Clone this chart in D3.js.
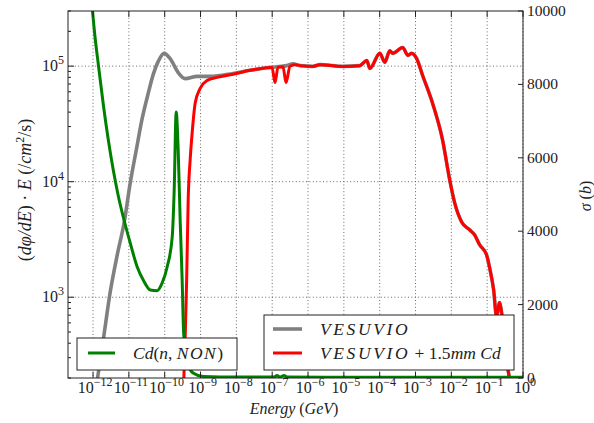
<!DOCTYPE html>
<html>
<head>
<meta charset="utf-8">
<script src="https://cdn.jsdelivr.net/npm/d3@7"></script>
<style>
  body { margin: 0; background: #fff; }
</style>
</head>
<body>
<div id="chart"></div>
<script>

// VESUVIO flux (E * dphi/dE)
const grayE = [1.32e-12, 1.94e-12, 3.03e-12, 4.75e-12, 7.45e-12, 1.09e-11, 1.61e-11, 2.36e-11, 3.47e-11, 4.79e-11,
  6.6e-11, 9.6e-11, 1.42e-10, 2.38e-10, 3.72e-10, 8.0e-10, 1.85e-9, 8.1e-9, 2.41e-8, 7.2e-8,
  2.58e-7, 3.8e-7, 5.96e-7, 1.37e-6, 2.15e-6, 9.4e-6, 2.79e-5, 4.38e-5, 5.3e-5, 1.01e-4,
  1.39e-4, 1.91e-4, 2.32e-4, 4.4e-4, 6.1e-4, 7.8e-4, 1.08e-3, 1.58e-3, 3.0e-3, 5.7e-3,
  8.97e-3, 1.24e-2, 1.94e-2, 3.24e-2, 4.46e-2, 6.14e-2, 9.6e-2, 0.117, 0.151, 0.183,
  0.221, 0.252, 0.305, 0.370, 0.421, 0.479];
const grayFlux = [195, 433, 1120, 2335, 4495, 9750, 1.88e4, 3.54e4, 5.82e4, 8.48e4,
  1.1e5, 1.29e5, 1.16e5, 8.8e4, 7.8e4, 8.15e4, 8.15e4, 8.65e4, 9.2e4, 9.7e4,
  1.01e5, 1.05e5, 1.01e5, 9.95e4, 1.03e5, 9.95e4, 1.01e5, 1.12e5, 9.55e4, 1.29e5,
  1.08e5, 1.36e5, 1.29e5, 1.45e5, 1.24e5, 1.29e5, 1.16e5, 8.3e4, 4.76e4, 2.29e4,
  1.04e4, 6550, 4480, 3830, 3470, 2850, 2330, 1800, 1165, 683,
  900, 740, 434, 253, 195, 145];

// VESUVIO + 1.5mm Cd
const redE = [3.27e-10, 3.72e-10, 4.1e-10, 4.52e-10, 5.13e-10, 5.83e-10, 7.08e-10, 9.77e-10, 1.53e-9, 2.9e-9,
  8.1e-9, 2.41e-8, 7.2e-8, 9.9e-8, 1.2e-7, 1.45e-7, 2.0e-7, 2.43e-7, 3.13e-7, 4.3e-7,
  5.96e-7, 1.37e-6, 2.15e-6, 9.4e-6, 2.79e-5, 4.38e-5, 5.3e-5, 1.01e-4,
  1.39e-4, 1.91e-4, 2.32e-4, 4.4e-4, 6.1e-4, 7.8e-4, 1.08e-3, 1.58e-3, 3.0e-3, 5.7e-3,
  8.97e-3, 1.24e-2, 1.94e-2, 3.24e-2, 4.46e-2, 6.14e-2, 9.6e-2, 0.117, 0.151, 0.183,
  0.221, 0.252, 0.305, 0.370, 0.421, 0.479];
const redFlux = [131, 433, 1420, 6950, 1.54e4, 2.63e4, 4.77e4, 6.43e4, 7.53e4, 8.0e4,
  8.5e4, 9.2e4, 9.7e4, 9.75e4, 7.2e4, 9.8e4, 9.9e4, 7.2e4, 9.95e4, 1.03e5,
  1.01e5, 9.95e4, 1.03e5, 9.95e4, 1.01e5, 1.12e5, 9.55e4, 1.29e5,
  1.08e5, 1.36e5, 1.29e5, 1.45e5, 1.24e5, 1.29e5, 1.16e5, 8.3e4, 4.76e4, 2.29e4,
  1.04e4, 6550, 4480, 3830, 3470, 2850, 2330, 1800, 1165, 683,
  900, 740, 434, 253, 195, 145];

// Cd(n,NON) cross section, barns
const cdE = [7.9e-13, 1.16e-12, 1.41e-12, 1.94e-12, 2.67e-12, 3.67e-12, 5.07e-12, 6.98e-12, 1.09e-11, 1.71e-11,
  2.52e-11, 3.94e-11, 6.18e-11, 8.5e-11, 1.17e-10, 1.62e-10, 1.84e-10, 2.09e-10, 2.38e-10, 2.7e-10,
  3.07e-10, 3.38e-10, 4.24e-10, 6.22e-10, 1.18e-9, 1.05e-8, 1.15e-7, 1.36e-7, 1.62e-7, 2.14e-7,
  2.6e-7, 3.2e-6, 1.0];
const cdSigma = [10980, 9210, 8530, 7440, 6486, 5668, 4960, 4387, 3680, 3025,
  2670, 2400, 2380, 2590, 3025, 3840, 5120, 7250, 6210, 4305,
  2670, 1225, 410, 136, 41, 27, 27, 68, 27, 68,
  27, 20, 20];

const xTickExps = [-12, -11, -10, -9, -8, -7, -6, -5, -4, -3, -2, -1, 0];
const leftTickExps = [3, 4, 5];
const rightTicks = [0, 2000, 4000, 6000, 8000, 10000];

const W = 594, H = 423;
const plot = { left: 68, right: 523, top: 11, bottom: 378 };
const serif = '"Liberation Serif", "DejaVu Serif", serif';

const x = d3.scaleLog().domain([2e-13, 1]).range([plot.left, plot.right]);
const yL = d3.scaleLog().domain([200, 3e5]).range([plot.bottom, plot.top]);
const yR = d3.scaleLinear().domain([0, 10000]).range([plot.bottom, plot.top]);

const svg = d3.select('#chart').append('svg')
  .attr('width', W)
  .attr('height', H)
  .attr('font-family', serif)
  .style('font-family', serif);

svg.append('clipPath').attr('id', 'clip')
  .append('rect')
  .attr('x', plot.left).attr('y', plot.top)
  .attr('width', plot.right - plot.left)
  .attr('height', plot.bottom - plot.top);

// grid
const grid = svg.append('g')
  .attr('stroke', '#444')
  .attr('stroke-width', 0.8)
  .attr('stroke-dasharray', '1,2.4');

grid.selectAll('.vg').data(xTickExps).enter().append('line')
  .attr('x1', d => x(Math.pow(10, d))).attr('x2', d => x(Math.pow(10, d)))
  .attr('y1', plot.top).attr('y2', plot.bottom);

grid.selectAll('.hg').data(leftTickExps).enter().append('line')
  .attr('x1', plot.left).attr('x2', plot.right)
  .attr('y1', d => yL(Math.pow(10, d))).attr('y2', d => yL(Math.pow(10, d)));

// curves
const curves = svg.append('g').attr('clip-path', 'url(#clip)');

const lineL = d3.line().x(d => x(d[0])).y(d => yL(d[1])).curve(d3.curveMonotoneX);
const lineR = d3.line().x(d => x(d[0])).y(d => yR(d[1])).curve(d3.curveMonotoneX);

curves.append('path')
  .attr('d', lineL(d3.zip(grayE, grayFlux)))
  .attr('fill', 'none').attr('stroke', '#808080')
  .attr('stroke-width', 3.6).attr('stroke-linejoin', 'round');

curves.append('path')
  .attr('d', lineL(d3.zip(redE, redFlux)))
  .attr('fill', 'none').attr('stroke', '#ff0000')
  .attr('stroke-width', 3).attr('stroke-linejoin', 'round');

curves.append('path')
  .attr('d', lineR(d3.zip(cdE, cdSigma)))
  .attr('fill', 'none').attr('stroke', '#008000')
  .attr('stroke-width', 3).attr('stroke-linejoin', 'round');

// frame
svg.append('rect')
  .attr('x', plot.left).attr('y', plot.top)
  .attr('width', plot.right - plot.left)
  .attr('height', plot.bottom - plot.top)
  .attr('fill', 'none').attr('stroke', '#222').attr('stroke-width', 1);

// ticks
const ticks = svg.append('g').attr('stroke', '#222').attr('stroke-width', 1);

xTickExps.forEach(e => {
  const px = x(Math.pow(10, e));
  ticks.append('line').attr('x1', px).attr('x2', px).attr('y1', plot.bottom).attr('y2', plot.bottom - 6);
  ticks.append('line').attr('x1', px).attr('x2', px).attr('y1', plot.top).attr('y2', plot.top + 6);
});

const leftMinor = [];
for (let e = 2; e <= 5; e++) {
  for (let m = 1; m <= 9; m++) {
    const v = m * Math.pow(10, e);
    if (v >= 200 && v <= 3e5) leftMinor.push(v);
  }
}
leftMinor.forEach(v => {
  const major = [1e3, 1e4, 1e5].includes(v);
  ticks.append('line')
    .attr('x1', plot.left).attr('x2', plot.left + (major ? 6 : 3))
    .attr('y1', yL(v)).attr('y2', yL(v));
});

rightTicks.forEach(v => {
  ticks.append('line')
    .attr('x1', plot.right).attr('x2', plot.right - 5)
    .attr('y1', yR(v)).attr('y2', yR(v));
});

// tick labels
const labels = svg.append('g').attr('fill', '#222');

xTickExps.forEach(e => {
  const t = labels.append('text')
    .attr('x', x(Math.pow(10, e)) + 2)
    .attr('y', 393)
    .attr('text-anchor', 'middle')
    .attr('font-size', 16);
  t.append('tspan').text('10');
  t.append('tspan').attr('dy', -7).attr('font-size', 12)
    .text(e === 0 ? '0' : '\u2212' + Math.abs(e));
});

leftTickExps.forEach(e => {
  const t = labels.append('text')
    .attr('x', 64)
    .attr('y', yL(Math.pow(10, e)) + 5)
    .attr('text-anchor', 'end')
    .attr('font-size', 16);
  t.append('tspan').text('10');
  t.append('tspan').attr('dy', -7).attr('font-size', 12).text(e);
});

rightTicks.forEach(v => {
  labels.append('text')
    .attr('x', 527)
    .attr('y', yR(v) + 5)
    .attr('font-size', 15.5)
    .text(v);
});

// axis titles
const xt = labels.append('text')
  .attr('x', 294).attr('y', 414)
  .attr('text-anchor', 'middle')
  .attr('font-size', 16);
xt.append('tspan').attr('font-style', 'italic').text('Energy ');
xt.append('tspan').text('(');
xt.append('tspan').attr('font-style', 'italic').text('GeV');
xt.append('tspan').text(')');

const yt = labels.append('text')
  .attr('transform', 'translate(31,190) rotate(-90)')
  .attr('text-anchor', 'middle')
  .attr('font-size', 18);
yt.append('tspan').text('(');
yt.append('tspan').attr('font-style', 'italic').text('d\u03C6/dE');
yt.append('tspan').text(') \u00B7 ');
yt.append('tspan').attr('font-style', 'italic').text('E');
yt.append('tspan').text(' (/');
yt.append('tspan').attr('font-style', 'italic').text('cm');
yt.append('tspan').attr('dy', -7).attr('font-size', 12).text('2');
yt.append('tspan').attr('dy', 7).text('/s)');

const rt = labels.append('text')
  .attr('transform', 'translate(591,196) rotate(-90)')
  .attr('text-anchor', 'middle')
  .attr('font-size', 16);
rt.append('tspan').attr('font-style', 'italic').text('\u03C3');
rt.append('tspan').text(' (');
rt.append('tspan').attr('font-style', 'italic').text('b');
rt.append('tspan').text(')');

// legends
const leg1 = svg.append('g');
leg1.append('rect')
  .attr('x', 77).attr('y', 338).attr('width', 160).attr('height', 32)
  .attr('fill', '#fff').attr('stroke', '#222');
leg1.append('line')
  .attr('x1', 88).attr('x2', 115).attr('y1', 353).attr('y2', 353)
  .attr('stroke', '#008000').attr('stroke-width', 3);
const l1 = leg1.append('text')
  .attr('x', 133).attr('y', 359).attr('font-size', 17.5).attr('fill', '#222');
l1.append('tspan').attr('font-style', 'italic').text('Cd');
l1.append('tspan').text('(');
l1.append('tspan').attr('font-style', 'italic').text('n');
l1.append('tspan').text(', ');
l1.append('tspan').attr('font-style', 'italic').attr('letter-spacing', 1.5).text('NON');
l1.append('tspan').text(')');

const leg2 = svg.append('g');
leg2.append('rect')
  .attr('x', 264).attr('y', 315).attr('width', 250).attr('height', 55)
  .attr('fill', '#fff').attr('stroke', '#222');
leg2.append('line')
  .attr('x1', 273).attr('x2', 302).attr('y1', 329).attr('y2', 329)
  .attr('stroke', '#808080').attr('stroke-width', 3.6);
leg2.append('line')
  .attr('x1', 273).attr('x2', 302).attr('y1', 353).attr('y2', 353)
  .attr('stroke', '#ff0000').attr('stroke-width', 3);
leg2.append('text')
  .attr('x', 320).attr('y', 335).attr('font-size', 17.5).attr('fill', '#222')
  .attr('font-style', 'italic').attr('letter-spacing', 2.6)
  .text('VESUVIO');
const l2 = leg2.append('text')
  .attr('x', 320).attr('y', 359).attr('font-size', 17.5).attr('fill', '#222');
l2.append('tspan').attr('font-style', 'italic').attr('letter-spacing', 2.6).text('VESUVIO');
l2.append('tspan').text(' + 1.5');
l2.append('tspan').attr('font-style', 'italic').text('mm Cd');

</script>
</body>
</html>
